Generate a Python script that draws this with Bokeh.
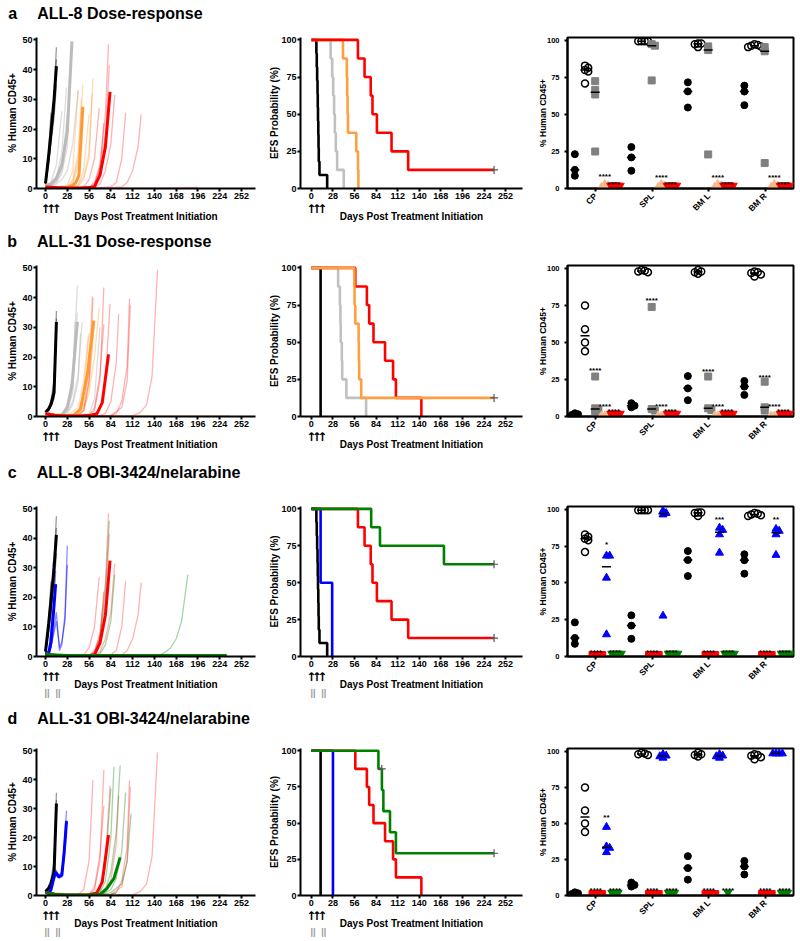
import math
from statistics import median
from bokeh.plotting import figure
from bokeh.models import Range1d, FixedTicker, LinearAxis
from bokeh.layouts import row, column
from bokeh.embed import file_html
from bokeh.resources import INLINE
from bokeh.core.properties import value

FONT = "Liberation Sans"
DAY_TICKS = [0, 28, 56, 84, 112, 140, 168, 196, 224, 252]
DOSE_DAYS = [0, 7, 14]
NEL_MARKS = [2, 16]
XLABEL = "Days Post Treatment Initiation"
TISSUES = ["CP", "SPL", "BM L", "BM R"]
TITLES = [("a", "ALL-8 Dose-response"), ("b", "ALL-31 Dose-response"),
          ("c", "ALL-8 OBI-3424/nelarabine"), ("d", "ALL-31 OBI-3424/nelarabine")]

# ---------------- growth curves: (days, % human CD45+) ----------------
G8_VEH_MED = ([0, 4, 7, 11, 14], [1.7, 11, 19, 30, 41.2])
G8_VEH = [
    ([0, 4, 7, 11, 14], [1.5, 10, 18, 32, 47.5]),
    ([0, 4, 7], [1.8, 12, 25.5]),
    ([0, 4, 7, 11, 14], [1.4, 8, 16, 27, 43.5]),
    ([0, 4, 7, 11, 14], [1.6, 9, 15, 24, 35]),
    ([0, 4, 7, 11], [1.5, 9, 17, 26]),
]
G8_LOW_MED = ([0, 7, 14, 21, 28, 34], [1, 1.5, 3.5, 8, 19, 49.5])
G8_LOW = [
    ([0, 7, 14, 21], [1, 2, 8, 26]),
    ([0, 7, 14, 21, 27], [1, 1.5, 4, 12, 34]),
    ([0, 7, 14, 21, 28, 32], [1, 1.2, 2.5, 6, 18, 42]),
    ([0, 7, 14, 21, 28, 30], [1, 1.5, 3, 9, 21, 30.5]),
    ([0, 7, 14, 21, 28, 33], [1, 1.3, 2, 5, 14, 47.5]),
    ([0, 7, 14, 21, 28], [1, 1, 2.5, 7, 25]),
    ([0, 7, 14, 21, 28, 35, 42], [1, 1, 1.5, 3, 6, 15, 33]),
]
G8_MID_MED = ([0, 14, 28, 35, 39, 43, 48], [0.5, 0.3, 0.4, 1, 2, 4.5, 27.5])
G8_MID = [
    ([0, 14, 28, 35, 42], [0.5, 0.3, 1, 6, 33]),
    ([0, 14, 28, 35, 42, 48], [0.5, 0.3, 0.5, 2, 10, 35]),
    ([0, 14, 28, 42, 49, 56, 61], [0.5, 0.3, 0.3, 1, 4, 12, 37]),
    ([0, 14, 28, 42, 49, 56, 60], [0.5, 0.3, 0.3, 0.8, 3, 10, 32]),
    ([0, 14, 28, 35, 42, 46], [0.5, 0.3, 0.6, 3, 12, 30]),
    ([0, 14, 28, 42, 49, 56], [0.5, 0.3, 0.3, 1.2, 6, 25]),
    ([0, 14, 28, 35, 42, 47], [0.5, 0.3, 0.4, 1.5, 8, 22]),
]
G8_HIGH_MED = ([0, 14, 28, 42, 56, 63, 70, 77, 83], [0.5, 0.3, 0.2, 0.2, 0.3, 0.6, 4.5, 14, 32.5])
G8_HIGH = [
    ([0, 28, 56, 63, 70, 77, 81], [0.5, 0.2, 0.3, 1.5, 8, 25, 48.5]),
    ([0, 28, 56, 63, 70, 77, 82], [0.5, 0.2, 0.4, 2, 7, 18, 41.5]),
    ([0, 28, 49, 56, 63, 69], [0.5, 0.2, 0.5, 3, 10, 27]),
    ([0, 28, 56, 63, 70, 75], [0.5, 0.2, 0.3, 1, 6, 22]),
    ([0, 28, 56, 63, 70, 77, 84, 89], [0.5, 0.2, 0.2, 0.4, 1.5, 6, 15, 31.5]),
    ([0, 28, 56, 70, 84, 91, 98, 103], [0.5, 0.2, 0.2, 0.3, 0.6, 2, 10, 25.5]),
    ([0, 28, 56, 84, 98, 105, 112, 119, 123], [0.5, 0.2, 0.2, 0.3, 0.5, 2, 6, 14, 25]),
    ([0, 56, 112, 168, 196], [0.5, 0.2, 0.2, 0.2, 0.4]),
]
G8_NEL_MED = ([0, 4, 7, 10, 13], [1.5, 1, 5, 14, 24.5])
G8_NEL = [
    ([0, 4, 7, 10], [1.5, 1.2, 9, 32]),
    ([0, 4, 7, 10, 13], [1.5, 1, 5, 13, 29]),
    ([0, 4, 7, 10, 14, 18, 21, 25, 28], [1.5, 0.8, 3, 8, 15, 2, 4, 14, 37.5]),
    ([0, 4, 7, 10, 14, 18, 21, 25, 28], [1.5, 0.8, 3, 7, 12, 3, 5, 12, 31]),
]
G8_COMBO_MED = ([0, 7, 14, 28, 56, 84, 112, 140, 168, 196, 233],
                [1, 0.5, 0.3, 0.3, 0.3, 0.3, 0.3, 0.3, 0.3, 0.3, 0.3])
G8_COMBO = [
    ([0, 28, 56, 63, 70, 77, 82], [1, 0.3, 0.3, 1, 6, 22, 46]),
    ([0, 28, 56, 70, 77, 84, 89], [1, 0.3, 0.3, 0.8, 4, 12, 27.7]),
    ([0, 56, 112, 147, 154, 161, 168, 175, 183], [1, 0.3, 0.3, 0.5, 1.5, 3, 6, 12, 27.7]),
    ([0, 56, 112, 168, 233], [1, 0.4, 0.3, 0.3, 0.4]),
    ([0, 56, 112, 168, 233], [1, 0.3, 0.4, 0.3, 0.3]),
]
G31_VEH_MED = ([0, 4, 7, 11, 14], [1.4, 2.5, 4, 8, 31.8])
G31_VEH = [
    ([0, 4, 7, 11, 14], [1.2, 2, 4, 9, 35.5]),
    ([0, 4, 7, 11, 14], [1.5, 3, 5, 10, 33]),
    ([0, 4, 7, 11, 14], [1.3, 2, 3.5, 6, 29]),
    ([0, 4, 7, 11, 14], [1.4, 3, 5.5, 12, 31]),
]
G31_LOW_MED = ([0, 14, 21, 28, 34, 41], [1, 0.3, 0.5, 3, 10.3, 31.8])
G31_LOW = [
    ([0, 14, 21, 28, 35, 41], [1, 0.3, 0.6, 4, 14, 44]),
    ([0, 14, 21, 28, 35, 42, 47], [1, 0.3, 0.4, 1.5, 5, 14, 31.8]),
    ([0, 14, 21, 28, 35, 38], [1, 0.3, 0.5, 3, 12, 32]),
    ([0, 14, 21, 28, 35, 41], [1, 0.3, 0.5, 2, 8, 35]),
    ([0, 14, 21, 28, 35, 42, 45], [1, 0.3, 0.4, 1, 4, 12, 28]),
    ([0, 14, 28, 42, 56, 63, 70], [1, 0.3, 0.3, 0.3, 1, 6, 30]),
]
G31_MID_MED = ([0, 14, 28, 36, 45, 54, 62], [1, 0.3, 0.3, 0.4, 2.5, 14.7, 32.3])
G31_MID = [
    ([0, 14, 28, 42, 49, 56, 60], [1, 0.3, 0.3, 1, 4, 15, 40.6]),
    ([0, 14, 28, 42, 49, 56, 63, 69], [1, 0.3, 0.3, 0.5, 2, 8, 20, 36.7]),
    ([0, 14, 28, 42, 49, 56], [1, 0.3, 0.3, 1.5, 8, 28]),
    ([0, 14, 28, 42, 49, 55], [1, 0.3, 0.4, 3, 12, 27]),
    ([0, 14, 28, 42, 49, 56, 62], [1, 0.3, 0.3, 0.8, 3, 12, 30]),
    ([0, 14, 28, 42, 49, 56, 63], [1, 0.3, 0.3, 0.6, 2, 10, 32]),
    ([0, 56, 112, 168, 237], [1, 0.3, 0.3, 0.3, 0.3]),
]
G31_HIGH_MED = ([0, 14, 28, 42, 56, 66, 73, 81], [1, 0.3, 0.2, 0.2, 0.3, 0.9, 4.7, 20.9])
G31_HIGH = [
    ([0, 28, 42, 49, 56, 61], [1, 0.2, 0.3, 2, 12, 40]),
    ([0, 28, 56, 63, 70, 75], [1, 0.2, 0.3, 2, 12, 43.4]),
    ([0, 28, 56, 63, 70, 75], [1, 0.2, 0.5, 3, 14, 31]),
    ([0, 28, 56, 63, 70, 77, 83], [1, 0.2, 0.2, 0.5, 3, 12, 37.9]),
    ([0, 28, 56, 70, 77, 84, 91, 94], [1, 0.2, 0.2, 0.3, 1, 5, 18, 34.5]),
    ([0, 28, 56, 84, 91, 98, 105, 108], [1, 0.2, 0.2, 0.3, 1, 5, 17, 39.7]),
    ([0, 28, 56, 84, 98, 105, 109], [1, 0.2, 0.2, 0.3, 3, 12, 37.6]),
    ([0, 28, 56, 84, 112, 122, 130, 137, 144], [1, 0.2, 0.2, 0.2, 0.2, 1.4, 4, 13.6, 49.4]),
]
G31_NEL_MED = ([0, 4, 7, 10, 13, 17, 21, 24, 27], [1.4, 0.7, 2, 5.3, 8, 6.4, 7, 15, 25.7])
G31_NEL = [
    ([0, 4, 7, 10, 13, 17, 21, 24, 27], [1.4, 0.8, 2.5, 6, 9, 7, 8, 17, 29.3]),
    ([0, 4, 7, 10, 13, 17, 21, 24, 27], [1.3, 0.6, 1.8, 5, 7.5, 6, 6.5, 13, 22]),
    ([0, 4, 7, 10, 13, 17, 21, 24, 27], [1.5, 0.7, 2, 5, 8.5, 7, 7.5, 15, 26]),
]
G31_COMBO_MED = ([0, 14, 28, 42, 56, 70, 79, 88, 96], [1, 0.3, 0.2, 0.2, 0.2, 0.4, 2.5, 5.9, 13.2])
G31_COMBO = [
    ([0, 28, 56, 70, 77, 84, 88], [1, 0.2, 0.3, 1, 5, 20, 44.5]),
    ([0, 28, 56, 70, 77, 84, 91, 96], [1, 0.2, 0.2, 0.5, 2, 8, 22, 45]),
    ([0, 28, 56, 70, 84, 91, 98, 103], [1, 0.2, 0.2, 0.3, 2, 6, 15, 35.6]),
    ([0, 28, 56, 70, 84, 98, 105, 110], [1, 0.2, 0.2, 0.3, 1, 4, 12, 28.3]),
    ([0, 28, 56, 70, 77, 84], [1, 0.2, 0.3, 1.5, 10, 37]),
    ([0, 28, 56, 70, 84, 91], [1, 0.2, 0.2, 0.3, 0.5, 0.8]),
    ([0, 56, 112, 168, 233], [1, 0.3, 0.3, 0.3, 0.3]),
]

# ---------------- EFS (event times, % EFS after event, censor times) ----------------
K8_VEH = ([0, 6.5, 7, 7.5, 8, 8.3, 8.6, 9, 9.3, 9.6, 10.5, 20.5],
          [100, 90.9, 81.8, 72.7, 63.6, 54.5, 45.5, 36.4, 27.3, 18.2, 9.1, 0], [])
K8_LOW = ([0, 25, 27, 28.3, 29.5, 30.5, 31.7, 33.4, 42], [100, 87.5, 75, 62.5, 50, 37.5, 25, 12.5, 0], [])
K8_MID = ([0, 41, 46, 46.5, 47, 47.5, 58.3, 60.5, 61], [100, 87.5, 75, 62.5, 50, 37.5, 25, 12.5, 0], [])
K8_HIGH = ([0, 60.4, 69, 77, 79.3, 85, 104, 125.6], [100, 87.5, 75, 62.5, 50, 37.5, 25, 12.5], [237])
K8_NEL = ([0, 12, 27], [100, 50, 0], [])
K8_COMBO = ([0, 77.6, 89, 172], [100, 87.5, 75, 62.5], [237])
K31_VEH = ([0, 12], [100, 0], [])
K31_LOW = ([0, 34.7, 37, 37.7, 38.1, 39.5, 40, 45.4, 71], [100, 87.5, 75, 62.5, 50, 37.5, 25, 12.5, 0], [])
K31_MID = ([0, 55.7, 56, 57, 61.3, 61.6, 62, 64.7], [100, 87.5, 75, 62.5, 50, 37.5, 25, 12.5], [237])
K31_HIGH = ([0, 57, 72, 75, 80.6, 95.6, 106, 109.7, 142.7], [100, 87.5, 75, 62.5, 50, 37.5, 25, 12.5, 0], [])
K31_NEL = ([0, 28], [100, 0], [])
K31_COMBO = ([0, 87, 91.5, 93.4, 102, 109.7], [100, 87.5, 72.9, 58.3, 43.75, 29.2], [91.3, 237])

# ---------------- tissue % human CD45+ (per tissue: CP, SPL, BM L, BM R) ----------------
T8_VEH = [[8.6, 23.2, 12.6], [28, 21, 12], [71.7, 65.6, 54.7], [69.5, 65.5, 56.3]]
T8_END = [[83, 81.5, 80, 79, 71], [99.5, 99.5, 99.5, 99.5], [98, 97.5, 98, 95.5], [97, 96, 95.5, 96.5, 97.5]]
T8_LOW = [[72.5, 66.5, 63.5, 25], [97.5, 96.5, 73], [96, 93.5, 23], [95.5, 92.7, 17.2]]
T8_MID = [[0.5, 1, 2, 3], [0.5, 1, 2, 3], [0.5, 1, 2, 3], [0.5, 1, 2, 3]]
T8_HIGH = [[2, 2.2, 2, 2.3], [2, 2.2, 2, 2.3], [2, 2.2, 2, 2.3], [2, 2.2, 2, 2.3]]
T8_NEL = [[68.5, 68.5, 53.5, 15], [99, 97.5, 96.5, 27.7], [87.5, 86, 83, 70.5], [86.7, 85.4, 83, 69]]
T8_HIGH_C = [[1, 1, 1, 1], [1, 1, 1, 1], [1, 1, 1, 1], [1, 1, 1, 1]]
T8_COMBO = [[2, 2, 2, 2], [2, 2, 2, 2], [2, 2, 2, 2], [2, 2, 2, 2]]
T31_VEH = [[1.5, 2.2, 1], [9, 7.3, 6.2], [27.3, 19, 11], [24, 20.2, 14.6]]
T31_END = [[75, 59, 50, 44], [98, 97.5, 98.5, 99], [99, 98, 96.5, 97.5], [97.5, 96, 94.5, 97, 98]]
T31_LOW = [[27, 5.5, 4.5, 3], [74, 5, 4], [27, 5.5, 4.4], [23.5, 6.2, 4]]
T31_MID = [[0.6, 0.6, 0.6, 0.6], [0.6, 0.6, 0.6, 0.6], [0.6, 0.6, 0.6, 0.6], [0.6, 0.6, 0.6, 0.6]]
T31_HIGH = [[2, 2, 2, 2], [2, 2, 2, 2], [2, 2, 2, 2], [2, 2, 2, 2]]
T31_NEL = [[47.5, 34, 33, 30], [98, 96.5, 95.5, 97], [98, 96.5, 95.5, 97], [98.5, 98.5, 98.5, 98.5]]
T31_HIGH_C = [[1, 1, 1, 1], [1, 1, 1, 1], [1, 1, 1, 1], [1, 1, 1, 1]]
T31_COMBO = [[2, 2, 2], [2, 2, 2], [2], [2, 2, 2]]

# significance marks: (group, texts per tissue, heights)
S_A = [("mid", ["****"] * 4, [9.3, 8.8, 9, 9]), ("high", ["****"] * 4, [4, 4, 4, 4])]
S_B = [("low", ["****"] * 4, [32.4, 80, 32, 28]), ("mid", ["****"] * 4, [8.4] * 4),
       ("high", ["****"] * 4, [4.7] * 4)]
S_C = [("nel", ["*", "", "***", "**"], [77.6, 0, 95, 95]), ("high", ["****"] * 4, [4.4] * 4),
       ("combo", ["****"] * 4, [4.4] * 4)]
S_D = [("nel", ["**", "", "", ""], [55.7, 0, 0, 0]), ("high", ["****"] * 4, [5] * 4),
       ("combo", ["****"] * 4, [5] * 4)]

# ---------------- styles ----------------
LINE = {"black": "#000000", "grey": "#bbbbbb", "orange": "#ff9933", "red": "#ff0000",
        "blue": "#0000ff", "green": "#008000"}
KMCOL = {"black": "#000000", "grey": "#c0c0c0", "orange": "#ffa040", "red": "#ff0000",
         "blue": "#0000ff", "green": "#008000"}
THIN_ALPHA = {"black": 0.4, "grey": 0.5, "orange": 0.35, "red": 0.3, "blue": 0.45, "green": 0.35}
MARK = {
    "veh": ("circle", 7, "black", "black", 1, -0.37, True),
    "end": ("circle", 7, None, "black", 1.5, -0.19, True),
    "low": ("square", 7, "#808080", "#808080", 1, -0.01, True),
    "mid": ("triangle", 8, "#f9b98a", "#f9b98a", 1, 0.16, False),
    "high": ("inverted_triangle", 8, "#ff0000", "#ff0000", 1, 0.32, False),
    "highc": ("square", 7, "#ff0000", "#ff0000", 1, 0.0, False),
    "nel": ("triangle", 8, "#0000ff", "#0000ff", 1, 0.19, True),
    "combo": ("inverted_triangle", 8, "#008000", "#008000", 1, 0.34, False),
}
STAR_OFF = {"ab": {"low": -0.01, "mid": 0.16, "high": 0.32}, "cd": {"nel": 0.19, "high": 0.0, "combo": 0.34}}

FH = 151
# (min left border, figure width, min right border, x range, y range)
L_BL, L_W, L_BR, L_XR, L_YR = 36, 266, 11, (-11.6, 270), (0, 50.8)
M_BL, M_W, M_BR, M_XR, M_YR = 32, 267, 11, (-14.1, 273.9), (0, 101.6)
R_BL, R_W, R_BR = 34, 264, 4
ROW_BT = [37, 39, 50, 48]
ROW_BB = [38, 40, 43, 40]
TITLE_DY = [24.5, 25, 35, 31]
TITLE_DAY = [77, 82, 101, 107]


def make_fig(w, xr, yr, bl, br, bt, bb):
    p = figure(width=w, height=bt + FH + bb, x_range=Range1d(*xr), y_range=Range1d(*yr),
               output_backend="svg", toolbar_location=None, title=None,
               min_border_left=bl, min_border_right=br, min_border_top=bt, min_border_bottom=bb)
    p.xgrid.visible = False
    p.ygrid.visible = False
    p.outline_line_color = None
    return p


def style_axis(ax, tick_size, label_size, tick_standoff, label_standoff):
    ax.axis_line_width = 2
    ax.axis_line_color = "black"
    ax.major_tick_line_width = 2
    ax.major_tick_line_color = "black"
    ax.major_tick_out = 3
    ax.major_tick_in = 0
    ax.minor_tick_line_color = None
    ax.major_label_text_font = FONT
    ax.major_label_text_font_style = "bold"
    ax.major_label_text_font_size = tick_size
    ax.major_label_text_color = "black"
    ax.major_label_standoff = tick_standoff
    ax.axis_label_text_font = FONT
    ax.axis_label_text_font_style = "bold"
    ax.axis_label_text_font_size = label_size
    ax.axis_label_text_color = "black"
    ax.axis_label_standoff = label_standoff


def label_axis(ticks, labels, size, color, standoff, font=FONT):
    ax = LinearAxis(ticker=FixedTicker(ticks=ticks))
    ax.major_label_overrides = dict(zip(ticks, labels))
    ax.axis_line_color = None
    ax.major_tick_line_color = None
    ax.minor_tick_line_color = None
    ax.major_tick_out = 0
    ax.major_tick_in = 0
    ax.major_label_text_font = font
    ax.major_label_text_font_style = "bold"
    ax.major_label_text_font_size = size
    ax.major_label_text_color = color
    ax.major_label_standoff = standoff
    return ax


def day_axes(p, ylabel, yticks, nel, ylab_standoff):
    p.xaxis.ticker = FixedTicker(ticks=DAY_TICKS)
    p.yaxis.ticker = FixedTicker(ticks=yticks)
    p.yaxis.axis_label = ylabel
    style_axis(p.xaxis[0], "9px", "10px", 1, 6)
    style_axis(p.yaxis[0], "9px", "10px", 1, ylab_standoff)
    # dosing arrows with the axis title pulled up onto the same line
    arr = label_axis(DOSE_DAYS, ["\u2191"] * 3, "12px", "black", 0, font="DejaVu Sans")
    arr.axis_label = XLABEL
    arr.axis_label_text_font = FONT
    arr.axis_label_text_font_style = "bold"
    arr.axis_label_text_font_size = "10px"
    arr.axis_label_text_color = "black"
    arr.axis_label_standoff = -8
    p.add_layout(arr, "below")
    if nel:
        p.add_layout(label_axis(NEL_MARKS, ["||", "||"], "9px", "#999999", -5), "below")


def growth_panel(i, groups, nel):
    p = make_fig(L_W, L_XR, L_YR, L_BL, L_BR, ROW_BT[i], ROW_BB[i])
    day_axes(p, "% Human CD45+", [0, 10, 20, 30, 40, 50], nel, 1)
    for color, med, thin in groups:
        for d, v in thin:
            p.line(d, v, line_color=LINE[color], line_alpha=THIN_ALPHA[color], line_width=1.3)
    for color, med, thin in groups:
        p.line(med[0], med[1], line_color=LINE[color], line_width=3)
    # panel letter + title
    ttl = label_axis([TITLE_DAY[i]], [TITLES[i][0] + "\u2003\u2005" + TITLES[i][1]], "16px", "black",
                     int(round(TITLE_DY[i] - 9)))
    p.add_layout(ttl, "above")
    return p


def km_panel(i, curves, nel):
    p = make_fig(M_W, M_XR, M_YR, M_BL, M_BR, ROW_BT[i], ROW_BB[i])
    day_axes(p, "EFS Probability (%)", [0, 25, 50, 75, 100], nel, -2)
    for color, (t, s, cens) in curves:
        xs, ys = list(t), list(s)
        if cens and max(cens) > xs[-1]:
            xs.append(max(cens))
            ys.append(ys[-1])
        p.step(xs, ys, mode="after", line_color=KMCOL[color], line_width=2.6)
        if cens:
            cy = []
            for c in cens:
                v = s[0]
                for tt, ss in zip(t, s):
                    if tt <= c:
                        v = ss
                cy.append(v)
            p.scatter(cens, cy, marker="cross", size=8, line_color="#555555", line_width=1.2)
    return p


def swarm(center, vals, xu, yu, step=3.2):
    placed = []
    out = [center] * len(vals)
    order = sorted(range(len(vals)), key=lambda k: -vals[k])
    for k in order:
        dx = 0
        for m in (0, 1, -1, 2, -2, 3, -3, 4, -4, 5, -5):
            dx = m * step
            if all((dx - px) ** 2 + ((vals[k] - pv) * yu) ** 2 >= step ** 2 for px, pv in placed):
                break
        placed.append((dx, vals[k]))
        out[k] = center + dx / xu
    return out


def tissue_panel(i, groups, stars, key):
    p = make_fig(R_W, (0.5, 4.5), (0, 102), R_BL, R_BR, ROW_BT[i], ROW_BB[i])
    p.outline_line_color = "black"
    p.outline_line_width = 2
    p.xaxis.ticker = FixedTicker(ticks=[1, 2, 3, 4])
    p.xaxis.major_label_overrides = {1: TISSUES[0], 2: TISSUES[1], 3: TISSUES[2], 4: TISSUES[3]}
    p.xaxis.major_label_orientation = math.pi / 4
    p.yaxis.ticker = FixedTicker(ticks=[0, 25, 50, 75, 100])
    p.yaxis.axis_label = "% Human CD45+"
    style_axis(p.xaxis[0], "8.5px", "8.5px", 3, 3)
    style_axis(p.yaxis[0], "7.5px", "8.5px", 5, -4)
    xu = (R_W - R_BL - R_BR) / 4.0
    yu = FH / 102.0
    for gname, vals in groups:
        marker, size, fill, line, lw, off, show_med = MARK[gname]
        xs, ys, mx, my = [], [], [], []
        for ci, v in enumerate(vals):
            c = ci + 1 + off
            xs += swarm(c, v, xu, yu)
            ys += v
            mx.append(c)
            my.append(median(v))
        p.scatter(xs, ys, marker=marker, size=size, fill_color=fill, line_color=line, line_width=lw)
        if show_med:
            p.scatter(mx, my, marker="dash", size=9, line_color="black", line_width=1.5)
    for gname, texts, hs in stars:
        off = STAR_OFF[key][gname]
        p.text([k + 1 + off for k in range(4)], [h - 1.5 for h in hs], text=texts,
               text_font=value(FONT), text_font_size="8px", text_font_style="bold",
               text_align="center", text_baseline="middle", text_color="black")
    return p


rows = []
# a
rows.append(row(
    growth_panel(0, [("black", G8_VEH_MED, G8_VEH), ("grey", G8_LOW_MED, G8_LOW),
                     ("orange", G8_MID_MED, G8_MID), ("red", G8_HIGH_MED, G8_HIGH)], False),
    km_panel(0, [("black", K8_VEH), ("grey", K8_LOW), ("orange", K8_MID), ("red", K8_HIGH)], False),
    tissue_panel(0, [("veh", T8_VEH), ("end", T8_END), ("low", T8_LOW), ("mid", T8_MID), ("high", T8_HIGH)],
                 S_A, "ab")))
# b
rows.append(row(
    growth_panel(1, [("black", G31_VEH_MED, G31_VEH), ("grey", G31_LOW_MED, G31_LOW),
                     ("orange", G31_MID_MED, G31_MID), ("red", G31_HIGH_MED, G31_HIGH)], False),
    km_panel(1, [("black", K31_VEH), ("grey", K31_LOW), ("red", K31_HIGH), ("orange", K31_MID)], False),
    tissue_panel(1, [("veh", T31_VEH), ("end", T31_END), ("low", T31_LOW), ("mid", T31_MID), ("high", T31_HIGH)],
                 S_B, "ab")))
# c
rows.append(row(
    growth_panel(2, [("black", G8_VEH_MED, G8_VEH), ("blue", G8_NEL_MED, G8_NEL),
                     ("red", G8_HIGH_MED, G8_HIGH), ("green", G8_COMBO_MED, G8_COMBO)], True),
    km_panel(2, [("black", K8_VEH), ("blue", K8_NEL), ("red", K8_HIGH), ("green", K8_COMBO)], True),
    tissue_panel(2, [("veh", T8_VEH), ("end", T8_END), ("highc", T8_HIGH_C), ("nel", T8_NEL), ("combo", T8_COMBO)],
                 S_C, "cd")))
# d
rows.append(row(
    growth_panel(3, [("black", G31_VEH_MED, G31_VEH), ("blue", G31_NEL_MED, G31_NEL),
                     ("red", G31_HIGH_MED, G31_HIGH), ("green", G31_COMBO_MED, G31_COMBO)], True),
    km_panel(3, [("black", K31_VEH), ("blue", K31_NEL), ("red", K31_HIGH), ("green", K31_COMBO)], True),
    tissue_panel(3, [("veh", T31_VEH), ("end", T31_END), ("highc", T31_HIGH_C), ("nel", T31_NEL), ("combo", T31_COMBO)],
                 S_D, "cd")))

layout = column(*rows)
open("out.html", "w").write(file_html(layout, INLINE))
